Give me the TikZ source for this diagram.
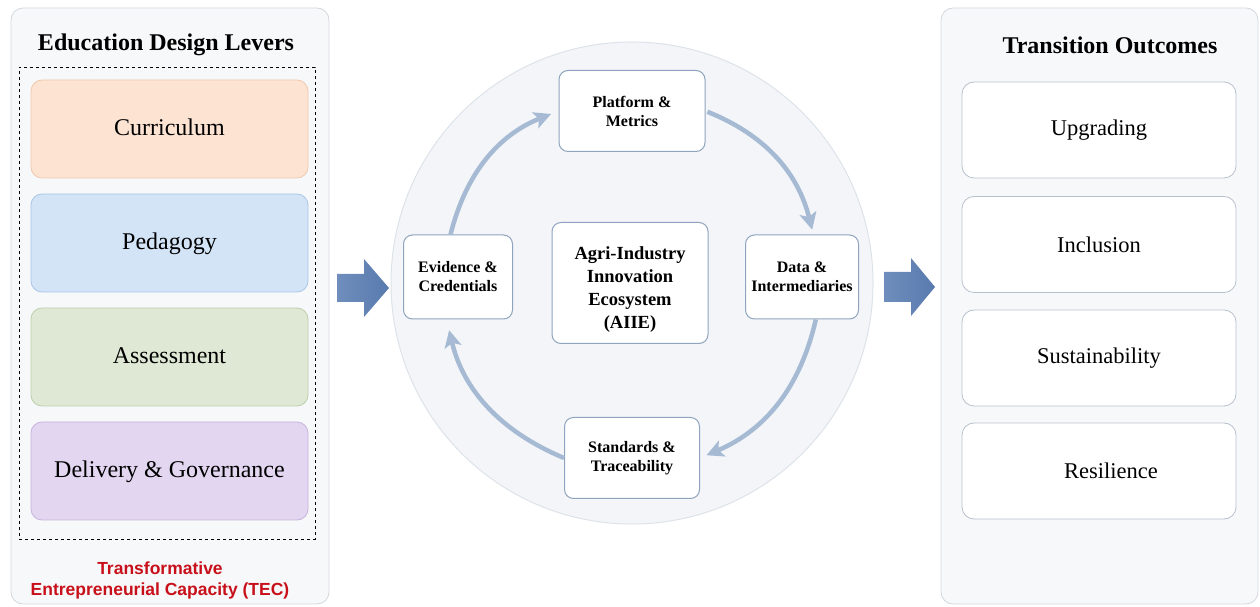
\documentclass[tikz,border=0pt]{standalone}
\usepackage{fontspec}
\setmainfont{Liberation Serif}
\newfontfamily\tecfont{Liberation Sans}
\usetikzlibrary{arrows.meta}
\definecolor{panelfill}{HTML}{F7F8FA}
\definecolor{panelline}{HTML}{D3D7DC}
\definecolor{ringfill}{HTML}{F3F5F8}
\definecolor{ringline}{HTML}{DDE3EA}
\definecolor{nodeline}{HTML}{8FA4BE}
\definecolor{flow}{HTML}{A6BAD4}
\definecolor{bigarrow}{HTML}{587AAD}
\definecolor{bigarrowlt}{HTML}{6F8EBD}
\definecolor{outline}{HTML}{B7C1CD}
\definecolor{tecred}{HTML}{C8101A}
\definecolor{curfill}{HTML}{FDE3D2}
\definecolor{curline}{HTML}{F0C9AF}
\definecolor{pedfill}{HTML}{D3E4F7}
\definecolor{pedline}{HTML}{A9C6E7}
\definecolor{assfill}{HTML}{DEE8D4}
\definecolor{assline}{HTML}{BCD0AB}
\definecolor{delfill}{HTML}{E3D6F0}
\definecolor{delline}{HTML}{C6B3DE}
\begin{document}
\begin{tikzpicture}[x=1pt,y=1pt]
      \tikzset{panel/.style={draw=panelline, fill=panelfill, line width=0.8pt, rounded corners=12pt, minimum width=318pt, minimum height=596pt, inner sep=0pt},
        paneltitle/.style={font=\fontsize{24}{28}\selectfont\bfseries},
        lever/.style={line width=0.8pt, rounded corners=11pt, minimum width=277pt, minimum height=98pt, inner sep=0pt, text height=19pt, text depth=5pt, font=\fontsize{24}{28}\selectfont},
        outcome/.style={draw=outline, fill=white, line width=0.8pt, rounded corners=12pt, minimum width=274pt, minimum height=96pt, inner sep=0pt, font=\fontsize{22.5}{27}\selectfont},
        ringnode/.style={draw=nodeline, fill=white, line width=1pt, rounded corners=9pt, inner sep=0pt, align=center, font=\fontsize{16}{19}\selectfont\bfseries},
        flowarrow/.style={draw=flow, line width=4.5pt, -{Stealth[length=17pt,width=17pt,inset=4pt]}},
        blockarrow/.style={left color=bigarrowlt, right color=bigarrow}}
      \useasboundingbox (0,0) rectangle (1260,607);
%% Left panel
        \node[panel] (levers) at (170,301) {};
        \node[paneltitle] (levtitle) at (166,562) {Education Design Levers};
        \node[draw, dashed, line width=0.8pt, minimum width=296pt, minimum height=472pt, inner sep=0pt] (levbox) at (167,304) {};
        \node[lever, fill=curfill, draw=curline] (cur) at (169.5,478) {Curriculum};
        \node[lever, fill=pedfill, draw=pedline] (ped) at (169.5,364) {Pedagogy};
        \node[lever, fill=assfill, draw=assline] (ass) at (169.5,250) {Assessment};
        \node[lever, fill=delfill, draw=delline] (del) at (169.5,136) {Delivery \& Governance};
        \node[align=center, text=tecred, font=\tecfont\bfseries\fontsize{17.5}{21}\selectfont] (tec) at (160,27) {Transformative\\Entrepreneurial Capacity (TEC)};
%% Ecosystem ring
        \node[circle, draw=ringline, fill=ringfill, line width=1pt, minimum size=482pt, inner sep=0pt] (eco) at (632,324) {};
        \node[ringnode, minimum width=156pt, minimum height=121pt, font=\fontsize{18.5}{23}\selectfont\bfseries] (aiie) at (630,324) {\rule{0pt}{26pt}Agri-Industry\\Innovation\\Ecosystem\\(AIIE)};
        \node[ringnode, minimum width=146pt, minimum height=81pt] (pm) at (632,496) {Platform \&\\Metrics};
        \node[ringnode, minimum width=113pt, minimum height=84pt] (dt) at (802,330) {Data \&\\Intermediaries};
        \node[ringnode, minimum width=135pt, minimum height=81pt] (st) at (632,149) {Standards \&\\Traceability};
        \node[ringnode, minimum width=109pt, minimum height=84pt] (ev) at (458,330) {Evidence \&\\Credentials};
%Cycle
        \draw[flowarrow, shorten >=8pt] (ev.100) to [bend left=27] (pm.west);
        \draw[flowarrow, shorten <=2pt, shorten >=5pt] (pm.east) to [bend left=27] (dt.75);
        \draw[flowarrow, shorten >=7pt] (dt.-72) to [bend left=27] (st.east);
        \draw[flowarrow, shorten >=11pt] (st.west) to [bend left=27] (ev.-105);
%% Block arrows
        \shade[blockarrow] (337,305) -- (364,305) -- (364,290) -- (389,319) -- (364,348) -- (364,333) -- (337,333) -- cycle;
        \shade[blockarrow] (884,305) -- (911,305) -- (911,291) -- (935,320) -- (911,349) -- (911,335) -- (884,335) -- cycle;
%% Right panel
        \node[panel, minimum width=317pt] (outcomes) at (1099.5,301) {};
        \node[paneltitle] (outtitle) at (1110,562) {Transition Outcomes};
        \node[outcome] (upg) at (1099,477) {Upgrading};
        \node[outcome] (inc) at (1099,362.5) {Inclusion};
        \node[outcome] (sus) at (1099,249) {Sustainability};
        \node[outcome] (res) at (1099,136) {\hspace*{24pt}Resilience};
\end{tikzpicture}
\end{document}
